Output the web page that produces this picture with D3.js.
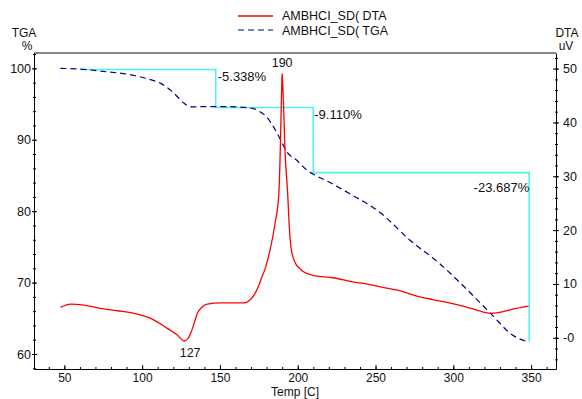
<!DOCTYPE html>
<html>
<head>
<meta charset="utf-8">
<script src="https://cdn.jsdelivr.net/npm/d3@7"></script>
<style>
  html, body { margin: 0; padding: 0; background: #fff; }
  svg text { font-family: "Liberation Sans", Arial, sans-serif; fill: #111; }
</style>
</head>
<body>
<svg id="chart" width="582" height="399"></svg>
<script>
// Temperature (°C) and DTA signal (uV)
const dtaTemp = [47.5, 54.1, 62.7, 73.4, 84.1, 94.8, 105.5, 116.2, 122.6, 127, 129.1, 131.2, 133.4, 135.5, 138.7, 141.9, 150.5, 165.5, 168.7, 171.9, 175.1, 176.2, 179, 182, 185.3, 187.8, 188.8, 189.4, 189.8, 190, 190.3, 190.9, 191.8, 193.6, 194.6, 195.6, 197.2, 199, 201.3, 203.4, 209.8, 222.6, 235.4, 244, 254.7, 265.4, 276, 286.8, 297.4, 308, 318.8, 324, 329.5, 340.2, 348.3];
const dtaValue = [5.65, 6.26, 6.08, 5.46, 5.02, 4.54, 3.6, 1.74, 0.5, -0.6, -0.3, 0.82, 2.68, 4.54, 5.76, 6.26, 6.5, 6.5, 6.88, 7.94, 9.8, 10.7, 12.8, 16, 21, 26.5, 35, 43, 47.5, 49.1, 47.5, 43, 35, 26.5, 20.5, 17, 14.8, 13.6, 12.9, 12.3, 11.6, 11.15, 10.4, 10.0, 9.37, 8.74, 7.8, 7.1, 6.5, 5.76, 4.83, 4.53, 4.7, 5.46, 5.9];

// Temperature (°C) and TGA mass (%)
const tgaTemp = [47.5, 60, 73.5, 95, 104, 112, 120.5, 127, 131, 140, 152, 160, 171, 176, 180, 185, 189, 193, 199, 205.6, 211, 219, 233, 253.6, 271.8, 291, 308, 325, 338, 348];
const tgaValue = [100.0, 99.9, 99.6, 99.0, 98.5, 97.9, 96.5, 95.1, 94.6, 94.65, 94.65, 94.6, 94.4, 93.9, 93.2, 91.6, 90.0, 88.3, 87.2, 85.8, 85.05, 84.2, 82.5, 79.7, 76.0, 72.7, 69.2, 65.45, 62.65, 61.7];

// Mass-loss steps: boundary temperatures and losses (%)
const stepTemps = [60, 147.3, 210, 348.8];
const stepLosses = [5.338, 9.110, 23.687];
const stepStartLevel = 99.85;

// Peak labels
const peakTemps = [190, 127];

// Axis ticks
const xTicks = [50, 100, 150, 200, 250, 300, 350];
const tgaTicks = [60, 70, 80, 90, 100];
const dtaTicks = [0, 10, 20, 30, 40, 50];

const W = 582, H = 399;
const margin = { top: 53, right: 26, bottom: 30, left: 34 };
const svg = d3.select("#chart");

const x = d3.scaleLinear().domain([30.5, 366]).range([margin.left, W - margin.right]);
const yTga = d3.scaleLinear().domain([57.9, 102.15]).range([H - margin.bottom, margin.top]);
const yDta = d3.scaleLinear().domain([-5.8, 52.9]).range([H - margin.bottom, margin.top]);

const x0 = margin.left, x1 = W - margin.right, yT = margin.top, yB = H - margin.bottom;

// frame: grey top edge
svg.append("line").attr("x1", x0).attr("x2", x1).attr("y1", yT).attr("y2", yT)
  .attr("stroke", "#888").attr("stroke-width", 2);

function styleAxis(g, fontSize) {
  g.select(".domain").attr("stroke", "#000");
  g.selectAll(".tick line").attr("stroke", "#000");
  g.selectAll("text").style("font-size", fontSize + "px").attr("fill", "#111");
}

// bottom axis
const xMinor = d3.range(40, 361, 10);
const gxMinor = svg.append("g").attr("transform", `translate(0,${yB})`)
  .call(d3.axisBottom(x).tickValues(xMinor).tickSize(2).tickSizeOuter(0).tickFormat(""));
gxMinor.selectAll(".tick line").attr("y1", -2).attr("y2", 0).attr("stroke", "#000");
gxMinor.select(".domain").remove();
const gx = svg.append("g").attr("transform", `translate(0,${yB})`)
  .call(d3.axisBottom(x).tickValues(xTicks).tickSize(1).tickPadding(3).tickSizeOuter(0));
gx.selectAll(".tick line").attr("y1", -4).attr("y2", 1);
styleAxis(gx, 12);

// left axis (TGA)
const tgaMinor = d3.range(58, 103, 2);
const gyMinor = svg.append("g").attr("transform", `translate(${x0},0)`)
  .call(d3.axisLeft(yTga).tickValues(tgaMinor).tickSize(2).tickSizeOuter(0).tickFormat(""));
gyMinor.selectAll(".tick line").attr("x1", -1).attr("x2", 2).attr("stroke", "#000");
gyMinor.select(".domain").remove();
const gy = svg.append("g").attr("transform", `translate(${x0},0)`)
  .call(d3.axisLeft(yTga).tickValues(tgaTicks).tickSize(2).tickPadding(1).tickSizeOuter(0));
gy.selectAll(".tick line").attr("x1", 3).attr("x2", -2);
styleAxis(gy, 12.5);

// right axis (DTA)
const dtaMinor = d3.range(-4, 53, 2);
const grMinor = svg.append("g").attr("transform", `translate(${x1},0)`)
  .call(d3.axisRight(yDta).tickValues(dtaMinor).tickSize(2).tickSizeOuter(0).tickFormat(""));
grMinor.selectAll(".tick line").attr("x1", -1).attr("x2", 2).attr("stroke", "#000");
grMinor.select(".domain").remove();
const gr = svg.append("g").attr("transform", `translate(${x1},0)`)
  .call(d3.axisRight(yDta).tickValues(dtaTicks).tickSize(3).tickPadding(4).tickSizeOuter(0)
    .tickFormat(d => d === 0 ? "-0" : d));
gr.selectAll(".tick line").attr("x1", -3).attr("x2", 3);
styleAxis(gr, 12.5);

// axis titles
svg.append("text").attr("x", 24).attr("y", 37).attr("text-anchor", "middle").style("font-size", "12px").text("TGA");
svg.append("text").attr("x", 27).attr("y", 50).attr("text-anchor", "middle").style("font-size", "12px").text("%");
svg.append("text").attr("x", 567).attr("y", 37).attr("text-anchor", "middle").style("font-size", "12px").text("DTA");
svg.append("text").attr("x", 566).attr("y", 50).attr("text-anchor", "middle").style("font-size", "12px").text("uV");
svg.append("text").attr("x", 295).attr("y", 396).attr("text-anchor", "middle").style("font-size", "12px").text("Temp [C]");

// mass-loss step guide
const stepPts = [];
let level = stepStartLevel;
stepPts.push([stepTemps[0], level]);
stepLosses.forEach((loss, i) => {
  stepPts.push([stepTemps[i + 1], level]);
  level = level - loss;
  stepPts.push([stepTemps[i + 1], level]);
});
svg.append("path")
  .attr("d", d3.line().x(d => x(d[0])).y(d => yTga(d[1]))(stepPts))
  .attr("fill", "none").attr("stroke", "#4ff0f0").attr("stroke-width", 1.6);

// TGA curve
const tgaData = tgaTemp.map((t, i) => [t, tgaValue[i]]);
svg.append("path")
  .attr("d", d3.line().x(d => x(d[0])).y(d => yTga(d[1])).curve(d3.curveMonotoneX)(tgaData))
  .attr("fill", "none").attr("stroke", "#000080").attr("stroke-width", 1.2)
  .attr("stroke-dasharray", "6,4");

// DTA curve
const dtaData = dtaTemp.map((t, i) => [t, dtaValue[i]]);
svg.append("path")
  .attr("d", d3.line().x(d => x(d[0])).y(d => yDta(d[1])).curve(d3.curveMonotoneX)(dtaData))
  .attr("fill", "none").attr("stroke", "#ff0000").attr("stroke-width", 1.3);

// step labels
const labelLevels = [];
level = stepStartLevel;
stepLosses.forEach(loss => { labelLevels.push(level); level -= loss; });
const fmt = d => "-" + d.toFixed(3) + "%";
svg.append("text").attr("x", x(stepTemps[1]) + 2).attr("y", yTga(labelLevels[0]) + 12)
  .style("font-size", "13px").text(fmt(stepLosses[0]));
svg.append("text").attr("x", x(stepTemps[2]) + 1).attr("y", yTga(labelLevels[1]) + 11)
  .style("font-size", "13px").text(fmt(stepLosses[1]));
svg.append("text").attr("x", x(stepTemps[3])).attr("y", yTga(labelLevels[2]) + 19)
  .attr("text-anchor", "end").style("font-size", "13px").text(fmt(stepLosses[2]));

// peak labels
const peakVal = t => dtaValue[dtaTemp.indexOf(t)];
svg.append("text").attr("x", x(peakTemps[0])).attr("y", yDta(peakVal(peakTemps[0])) - 6)
  .attr("text-anchor", "middle").style("font-size", "12.5px").text(peakTemps[0]);
svg.append("text").attr("x", x(peakTemps[1]) + 6).attr("y", yDta(peakVal(peakTemps[1])) + 16)
  .attr("text-anchor", "middle").style("font-size", "12.5px").text(peakTemps[1]);

// legend
const legend = svg.append("g");
legend.append("line").attr("x1", 238).attr("x2", 273).attr("y1", 16).attr("y2", 16)
  .attr("stroke", "#ff0000").attr("stroke-width", 1.3);
legend.append("text").attr("x", 282).attr("y", 20).style("font-size", "12.5px").text("AMBHCI_SD( DTA");
legend.append("line").attr("x1", 238).attr("x2", 273).attr("y1", 30).attr("y2", 30)
  .attr("stroke", "#000080").attr("stroke-width", 1.2).attr("stroke-dasharray", "6,4");
legend.append("text").attr("x", 282).attr("y", 34.5).style("font-size", "12.5px").text("AMBHCI_SD( TGA");
</script>
</body>
</html>
